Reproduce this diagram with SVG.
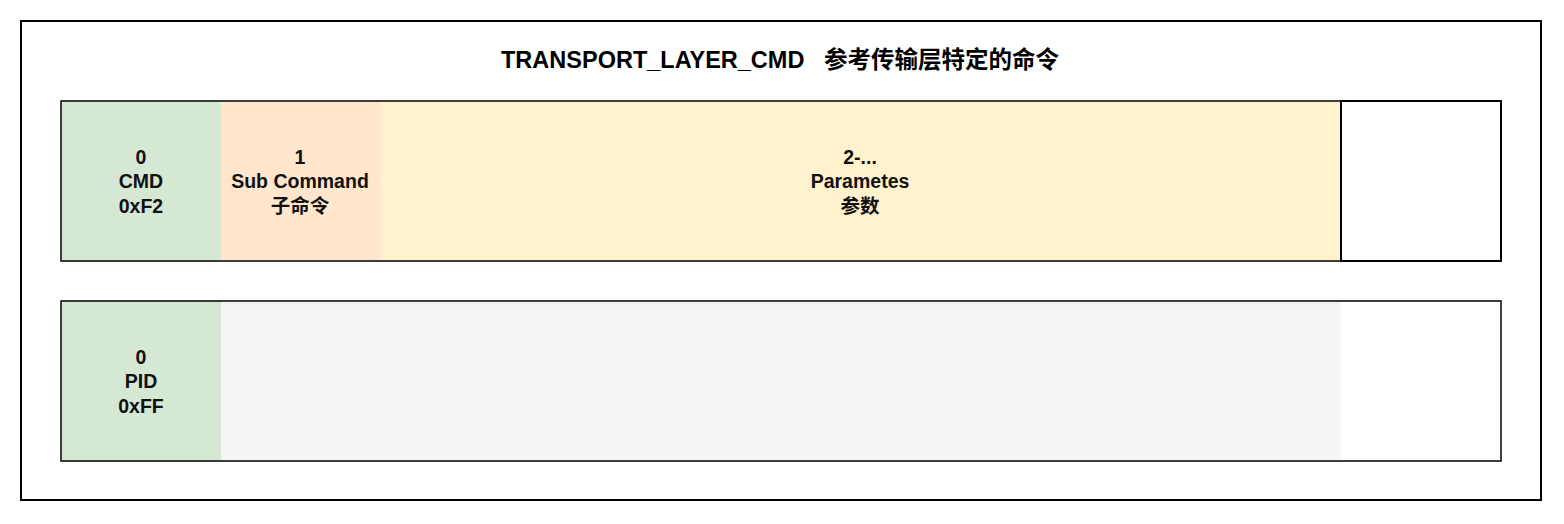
<svg xmlns="http://www.w3.org/2000/svg" width="1564" height="524" viewBox="0 0 1564 524">
<style>
.t{font-family:"Liberation Sans","Noto Sans CJK SC",sans-serif;font-weight:bold;font-size:19.5px;text-anchor:middle;fill:#111}
.title{font-family:"Liberation Sans","Noto Sans CJK SC",sans-serif;font-weight:bold;font-size:23.5px;text-anchor:middle;fill:#000}
.frame{fill:none;stroke:#000;stroke-width:1.5}
</style>
<rect width="1564" height="524" fill="#fff"/>
<g id="outer"><rect x="21" y="21" width="1520" height="479" fill="#fff" stroke="#000" stroke-width="2"/></g>
<g id="title"><text class="title" x="780" y="68" xml:space="preserve">TRANSPORT_LAYER_CMD   参考传输层特定的命令</text></g>
<g id="row1">
<rect x="61" y="101" width="1440" height="160" fill="#fff"/>
<g id="cmd"><rect x="61" y="101" width="160" height="160" fill="#d5e8d4"/>
<text class="t" x="141" y="164">0</text><text class="t" x="141" y="188">CMD</text><text class="t" x="141" y="213">0xF2</text></g>
<g id="subcmd"><rect x="221" y="101" width="160" height="160" fill="#ffe6cc"/>
<text class="t" x="300" y="164">1</text><text class="t" x="300" y="188">Sub Command</text><text class="t" x="300" y="213">子命令</text></g>
<g id="params"><rect x="381" y="101" width="960" height="160" fill="#fff2cc"/>
<text class="t" x="860" y="164">2-...</text><text class="t" x="860" y="188">Parametes</text><text class="t" x="860" y="213">参数</text></g>
<rect class="frame" x="61" y="101" width="1440" height="160"/>
<g id="tail"><rect x="1341" y="101" width="160" height="160" fill="none" stroke="#000" stroke-width="2"/></g>
</g>
<g id="row2">
<rect x="61" y="301" width="1440" height="160" fill="#fff"/>
<g id="pid"><rect x="61" y="301" width="160" height="160" fill="#d5e8d4"/>
<text class="t" x="141" y="364">0</text><text class="t" x="141" y="388">PID</text><text class="t" x="141" y="413">0xFF</text></g>
<g id="empty"><rect x="221" y="301" width="1120" height="160" fill="#f5f5f5"/></g>
<rect class="frame" x="61" y="301" width="1440" height="160"/>
</g>
<g id="connectors"></g>
</svg>
